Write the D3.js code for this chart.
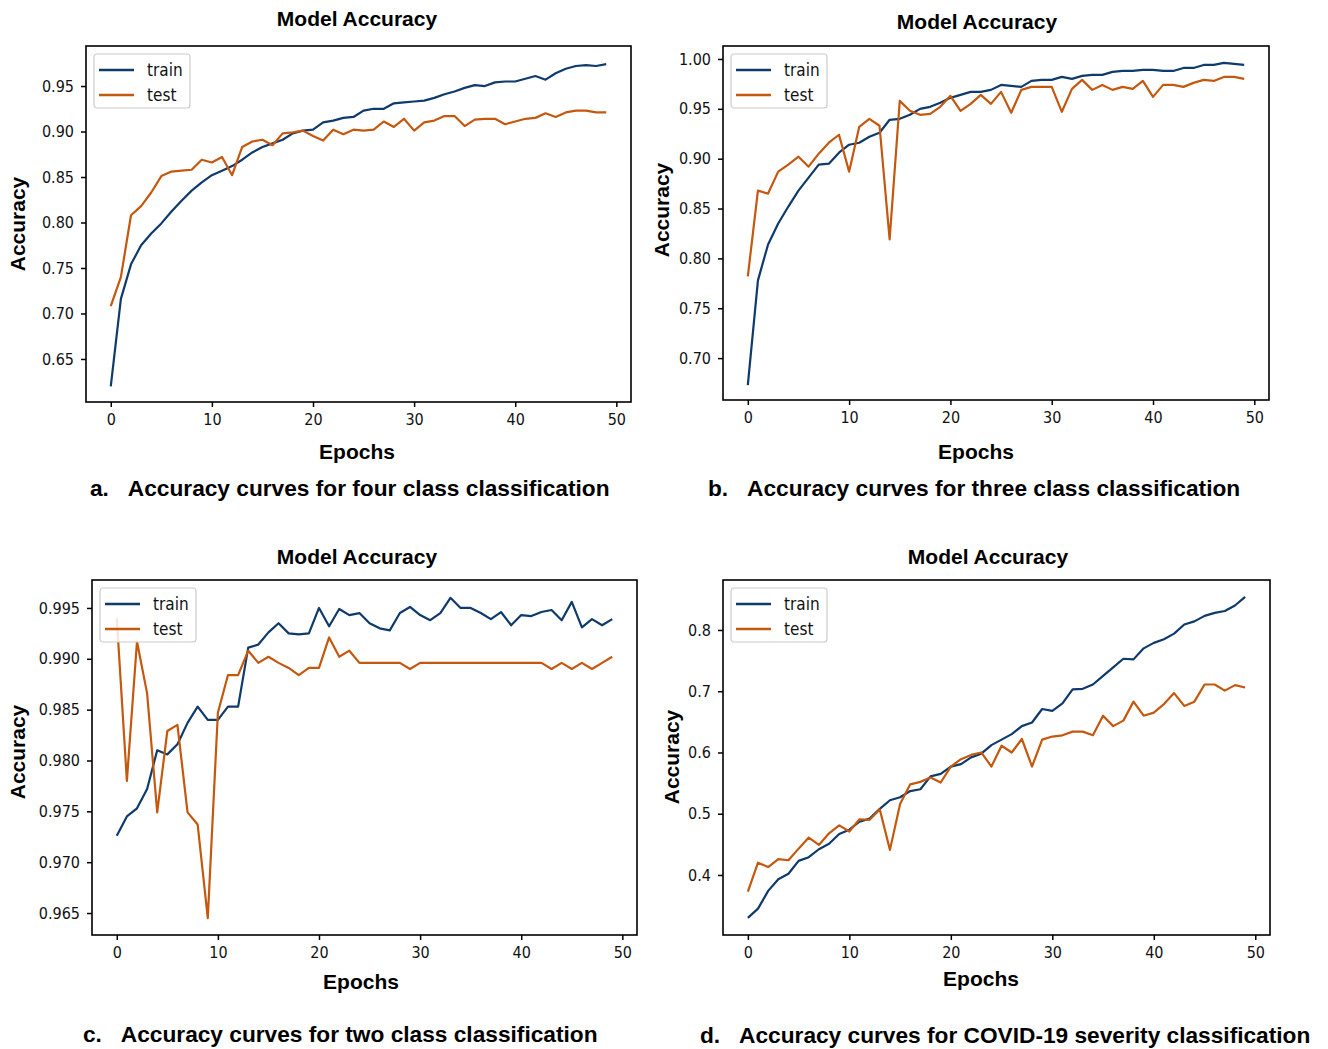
<!DOCTYPE html>
<html>
<head>
<meta charset="utf-8">
<script src="https://cdn.jsdelivr.net/npm/d3@7"></script>
<style>
body { margin: 0; background: #fff; }
svg { display: block; }
</style>
</head>
<body>
<svg id="chart" width="1328" height="1049"></svg>
<script>
// epochs 0..49
var epochs = d3.range(0, 50);
var xTicks = [0, 10, 20, 30, 40, 50];

var trainA = [0.620,0.716,0.754,0.775,0.788,0.799,0.812,0.824,0.835,0.844,
	0.852,0.857,0.862,0.869,0.877,0.883,0.887,0.891,0.898,0.901,
	0.902,0.910,0.912,0.915,0.916,0.923,0.925,0.925,0.931,0.932,
	0.933,0.934,0.937,0.941,0.944,0.948,0.951,0.950,0.954,0.955,
	0.955,0.958,0.961,0.957,0.964,0.969,0.972,0.973,0.972,0.974];
var testA = [0.708,0.740,0.808,0.818,0.833,0.851,0.856,0.857,0.858,0.869,
	0.866,0.872,0.852,0.883,0.889,0.891,0.885,0.898,0.899,0.901,
	0.895,0.890,0.902,0.897,0.902,0.901,0.902,0.911,0.905,0.914,
	0.901,0.910,0.912,0.917,0.917,0.906,0.913,0.914,0.914,0.908,
	0.911,0.914,0.915,0.920,0.916,0.921,0.923,0.923,0.921,0.921];
var ticksA = [0.65, 0.70, 0.75, 0.80, 0.85, 0.90, 0.95];

var trainB = [0.673,0.778,0.814,0.835,0.852,0.868,0.881,0.894,0.895,0.906,
	0.914,0.916,0.922,0.926,0.939,0.940,0.944,0.950,0.952,0.956,
	0.961,0.964,0.967,0.967,0.969,0.974,0.973,0.972,0.978,0.979,
	0.979,0.982,0.980,0.983,0.984,0.984,0.987,0.988,0.988,0.989,
	0.989,0.988,0.988,0.991,0.991,0.994,0.994,0.996,0.995,0.994];
var testB = [0.782,0.868,0.865,0.887,0.894,0.902,0.892,0.905,0.916,0.924,
	0.887,0.932,0.940,0.933,0.819,0.958,0.948,0.944,0.945,0.952,
	0.963,0.948,0.955,0.964,0.955,0.967,0.946,0.969,0.972,0.972,
	0.972,0.947,0.970,0.979,0.969,0.974,0.969,0.972,0.970,0.978,
	0.962,0.974,0.974,0.972,0.976,0.979,0.978,0.982,0.982,0.980];
var ticksB = [0.70, 0.75, 0.80, 0.85, 0.90, 0.95, 1.00];

var trainC = [0.9726,0.9745,0.9753,0.9772,0.9810,0.9806,0.9816,0.9837,0.9853,0.9840,
	0.9840,0.9853,0.9853,0.9911,0.9914,0.9926,0.9935,0.9925,0.9924,0.9925,
	0.9950,0.9932,0.9949,0.9943,0.9945,0.9935,0.9930,0.9928,0.9945,0.9951,
	0.9943,0.9938,0.9945,0.9960,0.9950,0.9950,0.9945,0.9939,0.9946,0.9933,
	0.9943,0.9942,0.9946,0.9948,0.9938,0.9956,0.9931,0.9939,0.9933,0.9939];
var testC = [0.9940,0.9780,0.9917,0.9866,0.9749,0.9829,0.9835,0.9749,0.9737,0.9645,
	0.9847,0.9884,0.9884,0.9908,0.9896,0.9902,0.9896,0.9891,0.9884,0.9891,
	0.9891,0.9921,0.9902,0.9908,0.9896,0.9896,0.9896,0.9896,0.9896,0.9890,
	0.9896,0.9896,0.9896,0.9896,0.9896,0.9896,0.9896,0.9896,0.9896,0.9896,
	0.9896,0.9896,0.9896,0.9890,0.9896,0.9890,0.9896,0.9890,0.9896,0.9902];
var ticksC = [0.965, 0.970, 0.975, 0.980, 0.985, 0.990, 0.995];

var trainD = [0.330,0.345,0.374,0.393,0.402,0.423,0.429,0.442,0.451,0.467,
	0.474,0.487,0.492,0.508,0.522,0.527,0.537,0.540,0.561,0.565,
	0.577,0.581,0.592,0.598,0.612,0.621,0.630,0.643,0.649,0.671,
	0.668,0.680,0.703,0.704,0.711,0.725,0.739,0.753,0.752,0.770,
	0.779,0.785,0.794,0.809,0.814,0.823,0.828,0.831,0.840,0.854];
var testD = [0.373,0.420,0.413,0.426,0.424,0.443,0.461,0.449,0.468,0.481,
	0.471,0.491,0.490,0.507,0.441,0.516,0.548,0.552,0.559,0.551,
	0.577,0.589,0.596,0.600,0.577,0.611,0.600,0.622,0.577,0.621,
	0.626,0.628,0.634,0.634,0.628,0.660,0.643,0.652,0.683,0.660,
	0.665,0.679,0.697,0.676,0.683,0.711,0.711,0.701,0.710,0.706];
var ticksD = [0.4, 0.5, 0.6, 0.7, 0.8];

var seriesNames = ["train", "test"];
var colors = {train: "#0e3a6c", test: "#c4580f"};

var svg = d3.select("#chart");

var panels = [
	{train: trainA, test: testA, ticks: ticksA, fmt: ".2f", yDom: [0.6027, 0.994],
	 box: {l: 86, r: 631, t: 46, b: 402}, titleX: 357, titleY: 26, xLabX: 357, xLabY: 459,
	 yLabX: 25, yLabY: 224, capX: 90, capY: 496,
	 caption: "a.\u00a0\u00a0\u00a0Accuracy curves for four class classification"},
	{train: trainB, test: testB, ticks: ticksB, fmt: ".2f", yDom: [0.658, 1.013],
	 box: {l: 723, r: 1269, t: 46, b: 400}, titleX: 977, titleY: 29, xLabX: 976, xLabY: 459,
	 yLabX: 669, yLabY: 210, capX: 708, capY: 496,
	 caption: "b.\u00a0\u00a0\u00a0Accuracy curves for three class classification"},
	{train: trainC, test: testC, ticks: ticksC, fmt: ".3f", yDom: [0.96284, 0.99775],
	 box: {l: 92, r: 637, t: 580, b: 935}, titleX: 357, titleY: 564, xLabX: 361, xLabY: 989,
	 yLabX: 25, yLabY: 752, capX: 83, capY: 1042,
	 caption: "c.\u00a0\u00a0\u00a0Accuracy curves for two class classification"},
	{train: trainD, test: testD, ticks: ticksD, fmt: ".1f", yDom: [0.302, 0.8816],
	 box: {l: 723, r: 1270, t: 580, b: 935}, titleX: 988, titleY: 564, xLabX: 981, xLabY: 986,
	 yLabX: 679, yLabY: 757, capX: 700, capY: 1043,
	 caption: "d.\u00a0\u00a0\u00a0Accuracy curves for COVID-19 severity classification"}
];

panels.forEach(drawPanel);

function drawPanel(p) {
	var bx = p.box;
	var x = d3.scaleLinear().domain([-2.45, 51.45]).range([bx.l, bx.r]);
	var y = d3.scaleLinear().domain(p.yDom).range([bx.b, bx.t]);
	var g = svg.append("g");

	var yAxis = d3.axisLeft(y).tickValues(p.ticks).tickFormat(d3.format(p.fmt)).tickSize(5).tickPadding(7);
	var xAxis = d3.axisBottom(x).tickValues(xTicks).tickFormat(d3.format("d")).tickSize(5).tickPadding(7);

	var ya = g.append("g").attr("transform", "translate(" + bx.l + ",0)").call(yAxis);
	var xa = g.append("g").attr("transform", "translate(0," + bx.b + ")").call(xAxis);
	[ya, xa].forEach(function(a) {
		a.select(".domain").remove();
		a.selectAll(".tick line").attr("stroke", "#000").attr("stroke-width", 1.5);
		a.selectAll(".tick text")
			.attr("fill", "#111")
			.style("font-family", "'DejaVu Sans Condensed', 'DejaVu Sans', sans-serif")
			.style("font-size", "16px");
	});

	var line = d3.line()
		.x(function(d, i) { return x(epochs[i]); })
		.y(function(d) { return y(d); });

	var clipId = "clip" + bx.l + "_" + bx.t;
	g.append("clipPath").attr("id", clipId)
		.append("rect").attr("x", bx.l).attr("y", bx.t).attr("width", bx.r - bx.l).attr("height", bx.b - bx.t);

	seriesNames.forEach(function(s) {
		g.append("path")
			.datum(p[s])
			.attr("clip-path", "url(#" + clipId + ")")
			.attr("fill", "none")
			.attr("stroke", colors[s])
			.attr("stroke-width", 2.2)
			.attr("stroke-linejoin", "round")
			.attr("d", line);
	});

	// frame
	g.append("rect")
		.attr("x", bx.l).attr("y", bx.t)
		.attr("width", bx.r - bx.l).attr("height", bx.b - bx.t)
		.attr("fill", "none").attr("stroke", "#000").attr("stroke-width", 1.6);

	// legend
	var lg = g.append("g").attr("transform", "translate(" + (bx.l + 8) + "," + (bx.t + 8) + ")");
	lg.append("rect")
		.attr("width", 96).attr("height", 54).attr("rx", 3)
		.attr("fill", "#fff").attr("fill-opacity", 0.85)
		.attr("stroke", "#ccc").attr("stroke-width", 1.2);
	seriesNames.forEach(function(s, i) {
		var yy = 16 + i * 25;
		lg.append("line").attr("x1", 5).attr("x2", 40).attr("y1", yy).attr("y2", yy)
			.attr("stroke", colors[s]).attr("stroke-width", 2.5);
		lg.append("text").attr("x", 53).attr("y", yy + 6).text(s)
			.style("font-family", "'DejaVu Sans Condensed', 'DejaVu Sans', sans-serif")
			.style("font-size", "17px").attr("fill", "#111");
	});

	var boldFont = "'Liberation Sans', Arial, sans-serif";
	g.append("text").attr("x", p.titleX).attr("y", p.titleY).attr("text-anchor", "middle")
		.text("Model Accuracy")
		.style("font-family", boldFont).style("font-weight", "bold").style("font-size", "21px");
	g.append("text").attr("x", p.xLabX).attr("y", p.xLabY).attr("text-anchor", "middle")
		.text("Epochs")
		.style("font-family", boldFont).style("font-weight", "bold").style("font-size", "21px");
	g.append("text").attr("transform", "translate(" + p.yLabX + "," + p.yLabY + ") rotate(-90)")
		.attr("text-anchor", "middle")
		.text("Accuracy")
		.style("font-family", boldFont).style("font-weight", "bold").style("font-size", "21px");
	g.append("text").attr("x", p.capX).attr("y", p.capY)
		.text(p.caption)
		.style("font-family", boldFont).style("font-weight", "bold").style("font-size", "22.7px");
}
</script>
</body>
</html>
